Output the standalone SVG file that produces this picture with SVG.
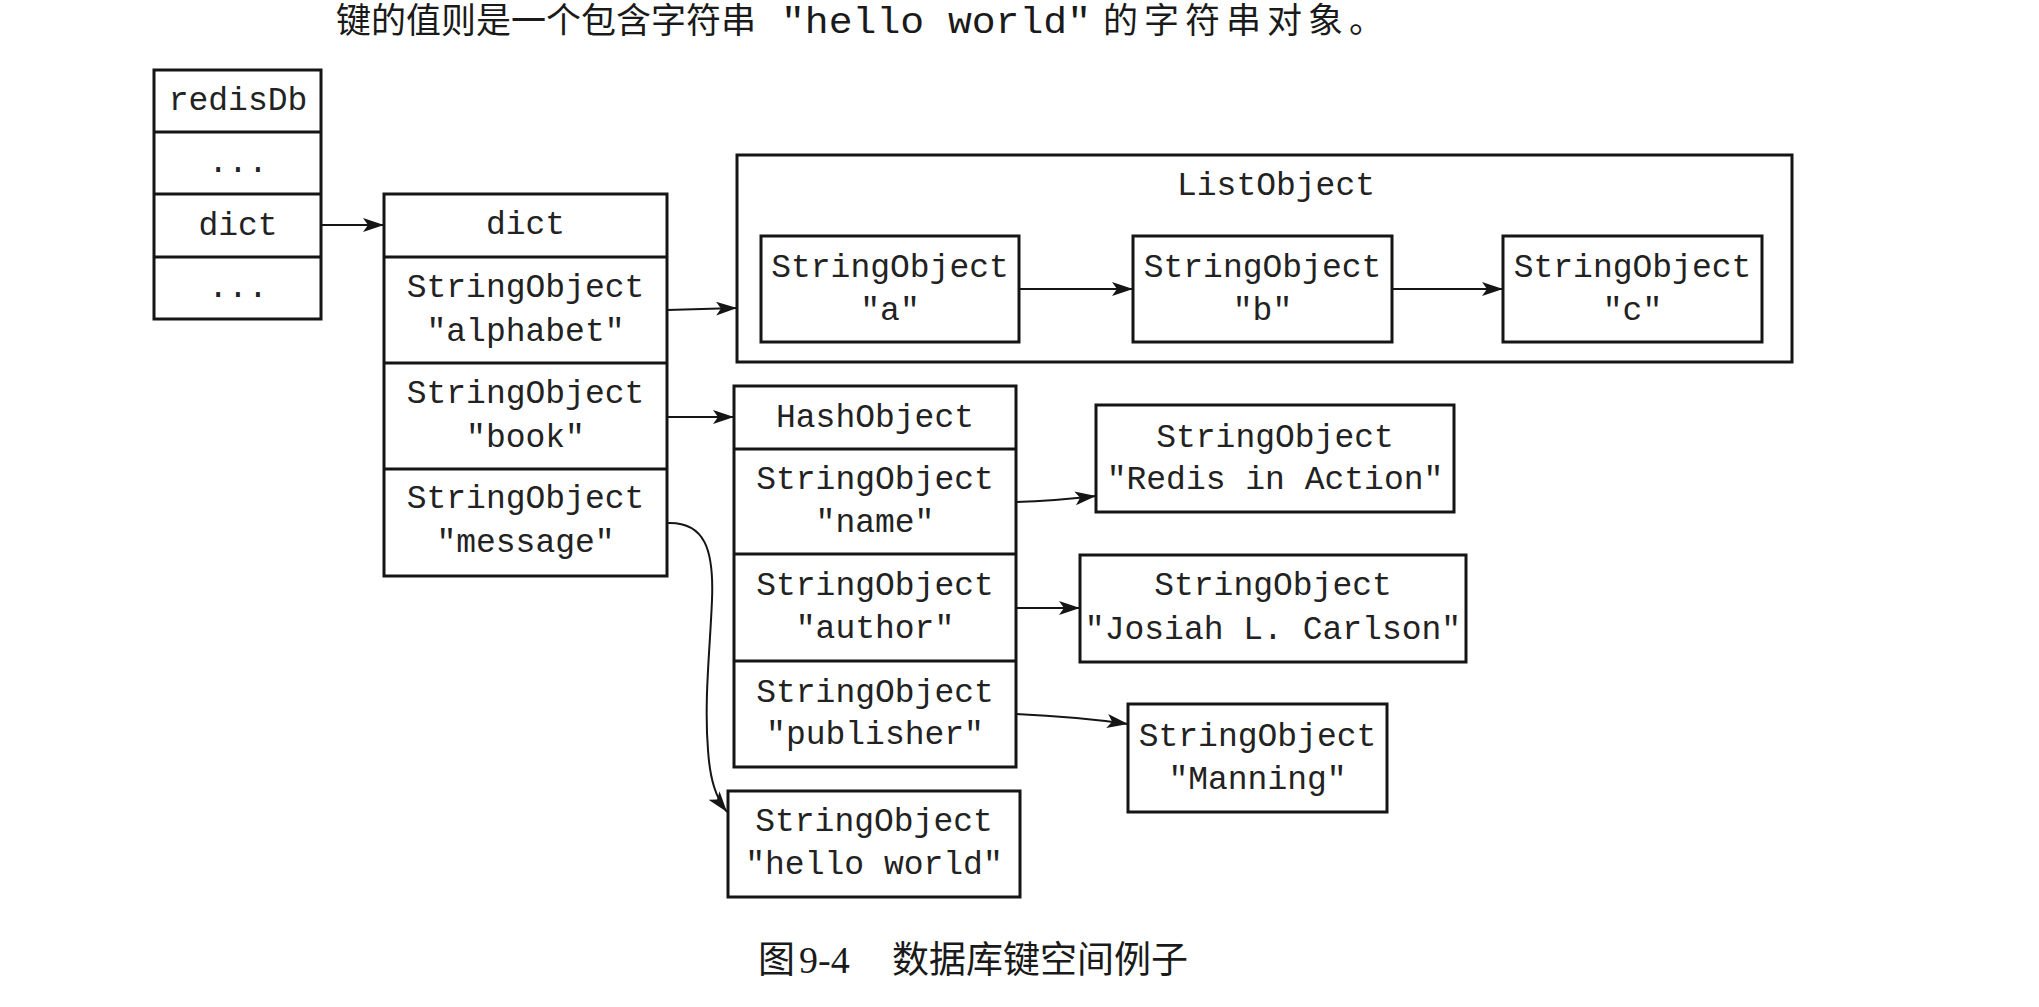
<svg xmlns="http://www.w3.org/2000/svg" width="2039" height="1007" viewBox="0 0 2039 1007">
<style>
  .box { fill: #fff; stroke: #151515; stroke-width: 3; }
  .div { stroke: #151515; stroke-width: 3; fill: none; }
  .t { font-family: "Liberation Mono", "DejaVu Sans Mono", monospace; font-size: 33px; fill: #222; text-anchor: middle; }
  .conn { stroke: #151515; stroke-width: 2; fill: none; marker-end: url(#arr); }
  .cjk { font-family: "Noto Sans CJK SC", "Noto Sans", sans-serif; fill: #1a1a1a; }
</style>
<defs>
  <marker id="arr" markerUnits="userSpaceOnUse" markerWidth="24" markerHeight="16" refX="21" refY="7" orient="auto">
    <path d="M0,0 L21,7 L0,14 L5,7 z" fill="#151515"/>
  </marker>
</defs>
<rect x="0" y="0" width="2039" height="1007" fill="#fff"/>

<g id="intro-text">
  <text class="cjk" x="336" y="33" font-size="35">键的值则是一个包含字符串</text>
  <text x="781" y="33" font-family="Liberation Mono, monospace" font-size="36" fill="#1a1a1a" textLength="310" lengthAdjust="spacingAndGlyphs">"hello world"</text>
  <text class="cjk" x="1103" y="33" font-size="35" textLength="281" lengthAdjust="spacing">的字符串对象。</text>
</g>

<g id="redisDb">
  <rect class="box" x="154" y="70" width="167" height="249"/>
  <line class="div" x1="154" y1="132" x2="321" y2="132"/>
  <line class="div" x1="154" y1="194" x2="321" y2="194"/>
  <line class="div" x1="154" y1="257" x2="321" y2="257"/>
  <text class="t" x="238" y="110">redisDb</text>
  <text class="t" x="238" y="172">...</text>
  <text class="t" x="238" y="235">dict</text>
  <text class="t" x="238" y="297">...</text>
</g>

<g id="dict">
  <rect class="box" x="384" y="194" width="283" height="382"/>
  <line class="div" x1="384" y1="257" x2="667" y2="257"/>
  <line class="div" x1="384" y1="363" x2="667" y2="363"/>
  <line class="div" x1="384" y1="469" x2="667" y2="469"/>
  <text class="t" x="525.5" y="234">dict</text>
  <text class="t" x="525.5" y="297">StringObject</text>
  <text class="t" x="525.5" y="341">"alphabet"</text>
  <text class="t" x="525.5" y="403">StringObject</text>
  <text class="t" x="525.5" y="447">"book"</text>
  <text class="t" x="525.5" y="508">StringObject</text>
  <text class="t" x="525.5" y="552">"message"</text>
</g>

<g id="ListObject">
  <rect class="box" x="737" y="155" width="1055" height="207"/>
  <text class="t" x="1276" y="195">ListObject</text>
</g>
<g id="list-a">
  <rect class="box" x="761" y="236" width="258" height="106"/>
  <text class="t" x="890" y="277">StringObject</text>
  <text class="t" x="890" y="320">"a"</text>
</g>
<g id="list-b">
  <rect class="box" x="1133" y="236" width="259" height="106"/>
  <text class="t" x="1262.5" y="277">StringObject</text>
  <text class="t" x="1262.5" y="320">"b"</text>
</g>
<g id="list-c">
  <rect class="box" x="1503" y="236" width="259" height="106"/>
  <text class="t" x="1632.5" y="277">StringObject</text>
  <text class="t" x="1632.5" y="320">"c"</text>
</g>

<g id="HashObject">
  <rect class="box" x="734" y="386" width="282" height="381"/>
  <line class="div" x1="734" y1="449" x2="1016" y2="449"/>
  <line class="div" x1="734" y1="554" x2="1016" y2="554"/>
  <line class="div" x1="734" y1="661" x2="1016" y2="661"/>
  <text class="t" x="875" y="427">HashObject</text>
  <text class="t" x="875" y="489">StringObject</text>
  <text class="t" x="875" y="532">"name"</text>
  <text class="t" x="875" y="595">StringObject</text>
  <text class="t" x="875" y="638">"author"</text>
  <text class="t" x="875" y="702">StringObject</text>
  <text class="t" x="875" y="744">"publisher"</text>
</g>

<g id="redis-in-action">
  <rect class="box" x="1096" y="405" width="358" height="107"/>
  <text class="t" x="1275" y="447">StringObject</text>
  <text class="t" x="1275" y="489">"Redis in Action"</text>
</g>
<g id="josiah">
  <rect class="box" x="1080" y="555" width="386" height="107"/>
  <text class="t" x="1273" y="595">StringObject</text>
  <text class="t" x="1273" y="639">"Josiah L. Carlson"</text>
</g>
<g id="manning">
  <rect class="box" x="1128" y="704" width="259" height="108"/>
  <text class="t" x="1257.5" y="746">StringObject</text>
  <text class="t" x="1257.5" y="789">"Manning"</text>
</g>
<g id="hello-world">
  <rect class="box" x="728" y="791" width="292" height="106"/>
  <text class="t" x="874" y="831">StringObject</text>
  <text class="t" x="874" y="874">"hello world"</text>
</g>

<g id="connectors">
  <path class="conn" d="M321,225 L384,225"/>
  <path class="conn" d="M667,310 L737,308"/>
  <path class="conn" d="M667,417 L734,417"/>
  <path class="conn" d="M1019,289 L1133,289"/>
  <path class="conn" d="M1392,289 L1503,289"/>
  <path class="conn" d="M1016,502 C1050,501 1070,499 1096,496"/>
  <path class="conn" d="M1016,608 L1080,608"/>
  <path class="conn" d="M1016,714 C1060,716 1100,720 1128,724"/>
  <path class="conn" d="M668,523 C705,522 714,550 712,600 C710,650 704,700 708,750 C710,780 716,798 727,812"/>
</g>

<g id="caption">
  <text class="cjk" x="758" y="973" font-size="37">图 <tspan x="799" font-family="Liberation Serif, serif" font-size="38">9-4</tspan></text>
  <text class="cjk" x="892" y="973" font-size="37">数据库键空间例子</text>
</g>
</svg>
